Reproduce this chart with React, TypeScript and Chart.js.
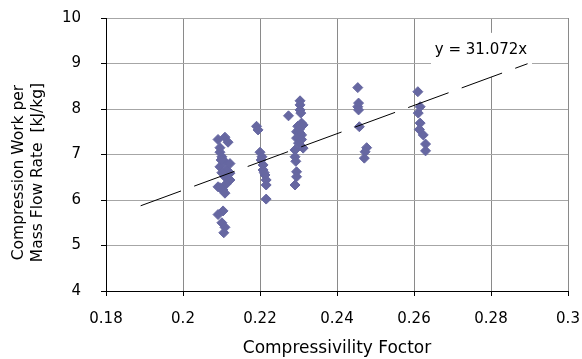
import React, { useEffect, useRef } from "react";
import { Chart, registerables } from "chart.js";

Chart.register(...registerables);

// ---- data ----
const xTickValues = [0.18, 0.2, 0.22, 0.24, 0.26, 0.28, 0.3];
const yTickValues = [4, 5, 6, 7, 8, 9, 10];

const compressibility = [
  // ~0.21 group
  0.2091, 0.2109, 0.2117, 0.2096, 0.2096, 0.2101, 0.2109, 0.2122, 0.2096, 0.2114,
  0.2122, 0.2109, 0.2122, 0.2091, 0.2104, 0.2109, 0.2104, 0.2091, 0.2101, 0.2109,
  0.2106, 0.2101, 0.2099, 0.2112, 0.2096,
  // ~0.22 group
  0.2191, 0.2195, 0.22, 0.2203, 0.2208, 0.2208, 0.2213, 0.2216, 0.2216, 0.2216,
  0.2205, 0.2211,
  // ~0.23 group
  0.2274, 0.2304, 0.2304, 0.2304, 0.2306, 0.2308, 0.2298, 0.2312, 0.2295, 0.2304,
  0.2308, 0.2295, 0.2308, 0.2312, 0.2291, 0.2291, 0.2293, 0.2295, 0.2295, 0.2291,
  0.23, 0.2302,
  // ~0.245 group
  0.2454, 0.2456, 0.2454, 0.2456, 0.2458, 0.2477, 0.2473, 0.2471,
  // ~0.262 group
  0.261, 0.2616, 0.2611, 0.2616, 0.2614, 0.2624, 0.263, 0.263,
];

const work = [
  7.33, 7.38, 7.27, 7.15, 7.05, 6.95, 6.84, 6.8, 6.73, 6.66,
  6.59, 6.51, 6.44, 6.29, 6.22, 6.15, 5.76, 5.68, 5.5, 5.4,
  5.28, 6.6, 6.88, 6.35, 6.27,
  7.62, 7.54, 7.05, 6.88, 6.77, 6.66, 6.55, 6.44, 6.33, 6.02,
  6.95, 6.6,
  7.85, 8.18, 8.09, 7.98, 7.91, 7.69, 7.62, 7.65, 7.5, 7.47,
  7.43, 7.36, 7.33, 7.14, 7.1, 6.95, 6.85, 6.62, 6.51, 6.33,
  7.25, 7.55,
  8.47, 8.13, 8.05, 7.98, 7.61, 7.15, 7.06, 6.92,
  8.38, 8.05, 7.91, 7.69, 7.55, 7.43, 7.23, 7.08,
];

const trendX = [0.189, 0.2895];
const trendY = [5.873, 8.995];
const trendLabel = "y = 31.072x";

const xTitle = "Compressivility Foctor";
const yTitleLines = ["Compression Work per", "Mass Flow Rate  [kJ/kg]"];

const FONT = '"DejaVu Sans", "Liberation Sans", Arial, sans-serif';
const MARKER = "#6667a1";

export default function App() {
  const ref = useRef<HTMLCanvasElement | null>(null);

  useEffect(() => {
    const canvas = ref.current;
    if (!canvas) return;

    const overlay = {
      id: "overlay",
      beforeDatasetsDraw(chart: any) {
        const ctx = chart.ctx;
        const xs = chart.scales.x;
        const ys = chart.scales.y;
        const cx = xs.getPixelForValue(0.2774);
        const cy = ys.getPixelForValue(9.3);
        ctx.save();
        ctx.fillStyle = "#ffffff";
        ctx.fillRect(cx - 50, cy - 17, 101, 44);
        ctx.fillStyle = "#000000";
        ctx.font = `15px ${FONT}`;
        ctx.textAlign = "center";
        ctx.textBaseline = "middle";
        ctx.fillText(trendLabel, cx, cy);
        ctx.restore();
      },
      afterDraw(chart: any) {
        const ctx = chart.ctx;
        const ys = chart.scales.y;
        const midY = (ys.top + ys.bottom) / 2 + 18;
        ctx.save();
        ctx.fillStyle = "#000000";
        ctx.font = `15.5px ${FONT}`;
        ctx.textAlign = "center";
        ctx.textBaseline = "middle";
        const cols = [19, 38];
        yTitleLines.forEach((line, i) => {
          ctx.save();
          ctx.translate(cols[i], midY);
          ctx.rotate(-Math.PI / 2);
          ctx.fillText(line, 0, 0);
          ctx.restore();
        });
        ctx.restore();
      },
    };

    const points = compressibility.map((x, i) => ({ x, y: work[i] }));
    const trend = trendX.map((x, i) => ({ x, y: trendY[i] }));

    const chart = new Chart(canvas, {
      type: "scatter",
      data: {
        datasets: [
          {
            type: "line",
            label: "trend",
            data: trend,
            borderColor: "#000000",
            borderWidth: 1,
            borderDash: [43, 14],
            pointRadius: 0,
            fill: false,
          } as any,
          {
            label: "data",
            data: points,
            pointStyle: "rectRot",
            pointRadius: 5,
            backgroundColor: MARKER,
            borderColor: MARKER,
            borderWidth: 1,
          },
        ],
      },
      options: {
        responsive: false,
        animation: false,
        devicePixelRatio: 1,
        layout: { padding: { top: 18, right: 14, left: 0, bottom: 0 } },
        plugins: {
          legend: { display: false },
          tooltip: { enabled: false },
        },
        scales: {
          x: {
            type: "linear",
            min: 0.18,
            max: 0.3,
            afterBuildTicks: (s: any) => {
              s.ticks = xTickValues.map((v) => ({ value: v }));
            },
            afterFit: (s: any) => {
              s.height = 68;
              s.paddingLeft = 0;
              s.paddingRight = 0;
            },
            ticks: {
              color: "#000",
              font: { family: FONT, size: 15 },
              padding: 14,
              callback: (v: any) => String(Number(v)),
              maxRotation: 0,
              autoSkip: false,
            },
            grid: {
              color: "#8a8a8a",
              lineWidth: 1,
              tickColor: "#000",
              tickLength: 5,
            },
            border: { color: "#000", width: 1 },
            title: {
              display: true,
              text: xTitle,
              color: "#000",
              font: { family: FONT, size: 17 },
              padding: { top: 0, bottom: 0 },
            },
          },
          y: {
            type: "linear",
            min: 4,
            max: 10,
            afterBuildTicks: (s: any) => {
              s.ticks = yTickValues.map((v) => ({ value: v }));
            },
            afterFit: (s: any) => {
              s.width = 106;
              s.paddingTop = 0;
              s.paddingBottom = 0;
            },
            ticks: {
              color: "#000",
              font: { family: FONT, size: 15 },
              padding: 20,
              callback: (v: any) => String(Number(v)),
            },
            grid: {
              color: "#a6a6a6",
              lineWidth: 1,
              tickColor: "#000",
              tickLength: 5,
            },
            border: { color: "#000", width: 1 },
          },
        },
      },
      plugins: [overlay],
    });

    return () => chart.destroy();
  }, []);

  return (
    <div
      style={{
        position: "fixed",
        left: 0,
        top: 0,
        width: 582,
        height: 359,
        background: "#ffffff",
      }}
    >
      <canvas ref={ref} width={582} height={359} style={{ display: "block" }} />
    </div>
  );
}
